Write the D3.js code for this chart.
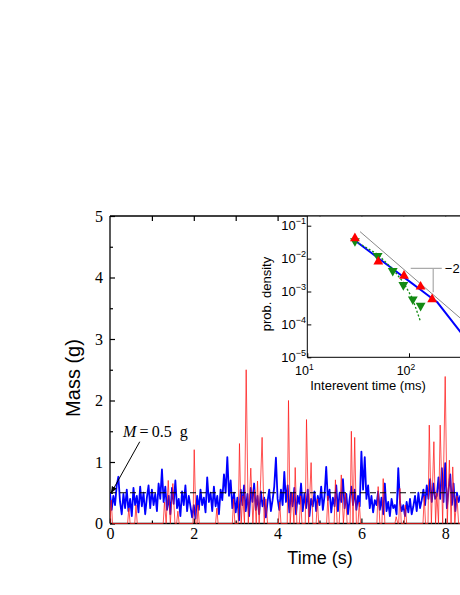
<!DOCTYPE html>
<html>
<head>
<meta charset="utf-8">
<style>
    body { margin: 0; background: #fff; }
    .serif { font-family: 'Liberation Serif', 'Times New Roman', serif; }
    .sans { font-family: 'Liberation Sans', Arial, sans-serif; }
    .spine { stroke: #000; stroke-width: 1.3px; }
</style>
</head>
<body>
<svg id="chart" width="460" height="595"></svg>
<script src="https://cdn.jsdelivr.net/npm/d3@7/dist/d3.min.js"></script>
<script>
    // ---- main trace data (time in s, mass in g) ----
    var blueDt = 0.04;
    var blueMass = [
        0.50, 0.22, 0.45, 0.30, 0.62, 0.76, 0.35, 0.15, 0.48, 0.25, 0.55, 0.20, 0.40, 0.12, 0.58, 0.30, 0.45, 0.18, 0.60, 0.28, 0.50, 0.15, 0.42, 0.62, 0.25,
        0.55, 0.30, 0.48, 0.20, 0.65, 0.40, 0.88, 0.35, 0.60, 0.22, 0.45, 0.15, 0.58, 0.32, 0.70, 0.25, 0.40, 0.12, 0.52, 0.30, 0.62, 0.20, 0.45, 0.28, 0.10,
        0.30, 0.08, 0.45, 0.22, 0.55, 0.30, 0.42, 0.18, 0.75, 0.35, 0.50, 0.20, 0.60, 0.28, 0.45, 0.15, 0.55, 0.38, 0.80, 0.50, 1.08, 0.45, 0.70, 0.25, 0.50,
        0.18, 0.42, 0.05, 0.55, 0.30, 0.62, 0.20, 0.48, 0.12, 0.58, 0.35, 0.65, 0.22, 0.45, 0.15, 0.52, 0.28, 0.42, 0.10, 0.35, 0.55, 0.20, 0.38, 0.60, 1.07,
        0.40, 0.22, 0.55, 0.30, 0.84, 0.35, 0.62, 0.18, 0.50, 0.28, 0.58, 0.15, 0.45, 0.32, 0.65, 0.20, 0.48, 0.25, 0.55, 0.12, 0.40, 0.28, 0.52, 0.20, 0.45,
        0.30, 0.60, 0.22, 0.45, 0.92, 0.38, 0.55, 0.18, 0.42, 0.28, 0.62, 0.20, 0.50, 0.35, 0.72, 0.25, 0.48, 0.15, 0.40, 0.60, 0.30, 0.55, 0.22, 0.45, 0.28,
        1.17, 0.55, 1.08, 0.40, 0.62, 0.25, 0.45, 0.18, 0.38, 0.30, 0.52, 0.22, 0.42, 0.15, 0.65, 0.20, 0.35, 0.12, 0.40, 0.25, 0.30, 0.15, 0.90, 0.35, 0.20,
        0.30, 0.12, 0.35, 0.18, 0.40, 0.15, 0.28, 0.45, 0.20, 0.50, 0.25, 0.38, 0.55, 0.30, 0.62, 0.40, 0.72, 0.35, 0.65, 0.40, 0.45, 0.75, 0.40, 0.90, 0.35,
        0.98, 0.25, 0.55, 0.80, 0.30, 0.65, 0.20, 0.50, 0.35, 0.45, 0.25, 0.55
    ];
    var redTime = [
        0, 0.03, 0.06, 0.42, 0.45, 0.48, 0.59, 0.62, 0.65, 1.27, 1.30, 1.34, 1.39, 1.44, 1.50, 1.55, 1.59, 1.62, 1.65,
        1.98, 2.01, 2.05, 2.08, 2.10, 2.13, 2.52, 2.55, 2.58, 2.92, 2.95, 2.98, 3.06, 3.09, 3.13, 3.17, 3.21, 3.25, 3.30,
        3.36, 3.41, 3.45, 3.49, 3.52, 3.56, 3.63, 3.68, 3.72, 3.76, 4.02, 4.05, 4.08, 4.23, 4.26, 4.30, 4.35, 4.39, 4.42,
        4.46, 4.52, 4.55, 4.58, 4.66, 4.69, 4.74, 4.80, 4.84, 4.92, 4.95, 4.98, 5.17, 5.20, 5.23, 5.35, 5.38, 5.42, 5.47,
        5.52, 5.57, 5.62, 5.66, 5.73, 5.76, 5.80, 5.84, 5.88, 5.92, 5.95, 5.98, 6.37, 6.40, 6.44, 6.49, 6.52, 6.56, 6.80,
        6.83, 6.87, 6.89, 6.92, 6.95, 7.02, 7.05, 7.08, 7.47, 7.50, 7.53, 7.59, 7.62, 7.67, 7.73, 7.77, 7.80, 7.84, 7.88,
        7.94, 8.00, 8.05, 8.10, 8.14, 8.18, 8.23, 8.28, 8.32, 8.50
    ];
    var redMass = [
        0, 0.38, 0, 0, 0.25, 0, 0, 0.30, 0, 0, 0.35, 0, 0.70, 0, 0.65, 0, 0, 0.20, 0,
        0, 1.20, 0, 0, 0.30, 0, 0, 0.25, 0, 0, 0.40, 0, 0, 1.30, 0, 0.45, 0, 2.50, 0,
        0.90, 0, 0.55, 0, 0.69, 0, 1.40, 0, 0.40, 0, 0, 0.35, 0, 0, 2.00, 0, 0.50, 0, 0.91,
        0, 0, 0.45, 0, 0, 1.69, 0, 0.99, 0, 0, 0.40, 0, 0, 0.45, 0, 0, 0.71, 0, 0,
        0.79, 0, 0.50, 0, 0, 1.50, 0, 1.40, 0, 0, 0.35, 0, 0, 0.60, 0, 0, 0.73, 0, 0,
        0.11, 0, 0, 0.57, 0, 0, 0.30, 0, 0, 0.45, 0, 0, 1.60, 0, 1.33, 0, 0.50, 0, 1.60,
        0, 2.39, 0, 1.03, 0, 0.92, 0, 0.45, 0, 0
    ];
    var thresholdMass = 0.5;
    var xTicks = [0, 2, 4, 6, 8];
    var yTicks = [0, 1, 2, 3, 4, 5];

    // ---- inset data (interevent time in ms, prob. density) ----
    var redPdfT = [29.4, 49.9, 89.3, 130, 169];
    var redPdfP = [0.0414, 0.0081, 0.0030, 0.0014, 0.00058];
    var greenPdfT = [29.4, 49.2, 69.2, 88, 109, 130];
    var greenPdfP = [0.0343, 0.0122, 0.00428, 0.00158, 0.00058, 0.00037];
    var greenFitT = [29.4, 49.2, 69.2, 88, 108, 130];
    var greenFitP = [0.0343, 0.0135, 0.0048, 0.0019, 0.00062, 0.00012];
    var blueFitT = [29.4, 40, 50, 70, 90, 130, 170, 190, 230, 320, 500];
    var blueFitP = [0.0355, 0.0174, 0.0103, 0.00474, 0.00264, 0.00113, 0.00060, 0.00047, 0.00022, 0.000059, 0.00001];
    var refLineT = [33, 500];
    var refLineP = [0.066, 0.000047];
    var insetYTicks = [1e-5, 1e-4, 1e-3, 1e-2, 1e-1];
    var insetXTicks = [10, 100];

    var svg = d3.select('#chart');

    // main scales
    var x = d3.scaleLinear().domain([0, 10]).range([110, 529]);
    var y = d3.scaleLinear().domain([0, 5]).range([523.5, 216]);

    svg.append('clipPath').attr('id', 'plotclip')
        .append('rect').attr('x', 110).attr('y', 216).attr('width', 420).attr('height', 310);

    // spines
    svg.append('line').attr('class', 'spine').attr('x1', 110).attr('x2', 460).attr('y1', 216).attr('y2', 216);
    svg.append('line').attr('class', 'spine').attr('x1', 110).attr('x2', 110).attr('y1', 216).attr('y2', 523.5);
    svg.append('line').attr('class', 'spine').attr('x1', 110).attr('x2', 460).attr('y1', 523.5).attr('y2', 523.5);

    function styleAxis(g) {
        g.select('.domain').remove();
        g.attr('font-family', null).attr('font-size', null);
        g.selectAll('.tick line').attr('stroke', '#000').attr('stroke-width', 1.2);
        g.selectAll('text')
            .style('font-family', "'Liberation Serif', 'Times New Roman', serif")
            .style('font-size', '16px').attr('fill', '#000');
    }

    svg.append('g').attr('transform', 'translate(0,523.5)')
        .call(d3.axisBottom(x).tickValues(xTicks).tickFormat(d3.format('d'))
            .tickSizeInner(-5).tickSizeOuter(0).tickPadding(4))
        .call(styleAxis);
    svg.append('g').attr('transform', 'translate(0,523.5)')
        .call(d3.axisBottom(x).tickValues([1, 3, 5, 7, 9]).tickSizeInner(-3).tickSizeOuter(0).tickFormat(''))
        .call(styleAxis);
    svg.append('g').attr('transform', 'translate(0,216)')
        .call(d3.axisTop(x).tickValues(d3.range(1, 10)).tickSizeInner(-5).tickSizeOuter(0).tickFormat(''))
        .call(styleAxis);
    svg.append('g').attr('transform', 'translate(110,0)')
        .call(d3.axisLeft(y).tickValues(yTicks).tickFormat(d3.format('d'))
            .tickSizeInner(-5).tickSizeOuter(0).tickPadding(7))
        .call(styleAxis);
    svg.append('g').attr('transform', 'translate(110,0)')
        .call(d3.axisLeft(y).tickValues([0.5, 1.5, 2.5, 3.5, 4.5]).tickSizeInner(-3).tickSizeOuter(0).tickFormat(''))
        .call(styleAxis);

    // axis titles
    svg.append('text').attr('class', 'sans')
        .attr('transform', 'translate(80,378) rotate(-90)')
        .style('text-anchor', 'middle').style('font-size', '20px')
        .text('Mass (g)');
    svg.append('text').attr('class', 'sans')
        .attr('x', 320).attr('y', 564)
        .style('text-anchor', 'middle').style('font-size', '18px')
        .text('Time (s)');

    // traces
    var data = svg.append('g').attr('clip-path', 'url(#plotclip)');
    var line = d3.line().x(function(d) { return x(d[0]); }).y(function(d) { return y(d[1]); });

    var blueData = blueMass.map(function(v, i) { return [i * blueDt, v]; });
    var redData = redTime.map(function(t, i) { return [t, redMass[i]]; });

    data.append('path').datum(blueData)
        .attr('d', line).attr('fill', 'none')
        .attr('stroke', '#0000ff').attr('stroke-width', 1.8).attr('stroke-linejoin', 'round');
    data.append('path').datum(redData)
        .attr('d', line).attr('fill', 'none')
        .attr('stroke', '#ff1a1a').attr('stroke-width', 1).attr('stroke-opacity', 0.75);
    data.append('line')
        .attr('x1', 110).attr('x2', 460)
        .attr('y1', y(thresholdMass)).attr('y2', y(thresholdMass))
        .attr('stroke', '#000').attr('stroke-width', 1).attr('stroke-dasharray', '6,4');

    // annotation M = 0.5 g
    var annText = [0.31, 1.40];
    var annTail = [0.71, 1.33];
    var annTip = [0.03, thresholdMass];
    svg.append('defs').append('marker').attr('id', 'arrow')
        .attr('viewBox', '0 0 10 10').attr('refX', 9).attr('refY', 5)
        .attr('markerWidth', 7).attr('markerHeight', 7).attr('orient', 'auto')
        .append('path').attr('d', 'M0,1 L10,5 L0,9 Z').attr('fill', '#000');
    svg.append('line')
        .attr('x1', x(annTail[0])).attr('y1', y(annTail[1]))
        .attr('x2', x(annTip[0])).attr('y2', y(annTip[1]))
        .attr('stroke', '#000').attr('stroke-width', 1).attr('marker-end', 'url(#arrow)');
    var ann = svg.append('text').attr('class', 'serif')
        .attr('x', x(annText[0])).attr('y', y(annText[1]))
        .style('font-size', '16px');
    ann.append('tspan').style('font-style', 'italic').text('M');
    ann.append('tspan').text('\u2009=\u20090.5\u2002g');

    // ---- inset ----
    var xi = d3.scaleLog().domain([10, 1000]).range([307.3, 510.7]);
    var yi = d3.scaleLog().domain([1e-5, 1e-1]).range([357.3, 225.7]);

    svg.append('rect').attr('x', 307.3).attr('y', 216.7).attr('width', 160).attr('height', 140.6).attr('fill', '#fff');
    svg.append('line').attr('stroke', '#000').attr('stroke-width', 1)
        .attr('x1', 307.3).attr('x2', 307.3).attr('y1', 216).attr('y2', 357.3);
    svg.append('line').attr('stroke', '#000').attr('stroke-width', 1)
        .attr('x1', 307.3).attr('x2', 460).attr('y1', 357.3).attr('y2', 357.3);

    var ayi = svg.append('g').attr('transform', 'translate(307.3,0)')
        .call(d3.axisLeft(yi).tickValues(insetYTicks).tickSizeInner(-4).tickSizeOuter(0).tickFormat(''));
    ayi.select('.domain').remove();
    ayi.selectAll('.tick line').attr('stroke', '#000');
    var axi = svg.append('g').attr('transform', 'translate(0,357.3)')
        .call(d3.axisBottom(xi).tickValues(insetXTicks).tickSizeInner(-4).tickSizeOuter(0).tickFormat(''));
    axi.select('.domain').remove();
    axi.selectAll('.tick line').attr('stroke', '#000');

    insetYTicks.forEach(function(v) {
        var t = svg.append('text').attr('class', 'sans')
            .attr('x', 306).attr('y', yi(v) + 4.5)
            .style('text-anchor', 'end').style('font-size', '13px');
        t.append('tspan').text('10');
        t.append('tspan').attr('dy', -6).style('font-size', '9px').text('\u2212' + Math.round(-Math.log10(v)));
    });
    insetXTicks.forEach(function(v) {
        var t = svg.append('text').attr('class', 'sans')
            .attr('x', xi(v) - 3).attr('y', 375)
            .style('text-anchor', 'middle').style('font-size', '12.5px');
        t.append('tspan').text('10');
        t.append('tspan').attr('dy', -5).style('font-size', '8.5px').text(Math.round(Math.log10(v)));
    });
    svg.append('text').attr('class', 'sans')
        .attr('x', 368).attr('y', 390)
        .style('text-anchor', 'middle').style('font-size', '13px')
        .text('Interevent time (ms)');
    svg.append('text').attr('class', 'sans')
        .attr('transform', 'translate(271,294) rotate(-90)')
        .style('text-anchor', 'middle').style('font-size', '13px')
        .text('prob. density');

    svg.append('clipPath').attr('id', 'insetclip')
        .append('rect').attr('x', 307.3).attr('y', 216).attr('width', 200).attr('height', 141.3);
    var ins = svg.append('g').attr('clip-path', 'url(#insetclip)');
    var lineLog = d3.line().x(function(d) { return xi(d[0]); }).y(function(d) { return yi(d[1]); });
    function zip(a, b) { return a.map(function(v, i) { return [v, b[i]]; }); }

    ins.append('path').datum(zip(refLineT, refLineP))
        .attr('d', lineLog).attr('fill', 'none').attr('stroke', '#888').attr('stroke-width', 1);
    // slope bracket
    var brX = [104, 173, 210];
    var brY = [0.00507, 0.00095];
    ins.append('line').attr('stroke', '#aaa').attr('stroke-width', 1.2)
        .attr('x1', xi(brX[0])).attr('x2', xi(brX[2])).attr('y1', yi(brY[0])).attr('y2', yi(brY[0]));
    ins.append('line').attr('stroke', '#aaa').attr('stroke-width', 1.2)
        .attr('x1', xi(brX[1])).attr('x2', xi(brX[1])).attr('y1', yi(brY[0])).attr('y2', yi(brY[1]));
    svg.append('text').attr('class', 'sans')
        .attr('x', xi(225)).attr('y', yi(brY[0]) + 5)
        .style('font-size', '13px').text('\u22122');

    ins.append('path').datum(zip(blueFitT, blueFitP))
        .attr('d', lineLog).attr('fill', 'none').attr('stroke', '#0000ff').attr('stroke-width', 2);
    ins.append('path').datum(zip(greenFitT, greenFitP))
        .attr('d', lineLog).attr('fill', 'none').attr('stroke', '#138a13')
        .attr('stroke-width', 1.3).attr('stroke-dasharray', '2,2');

    var tri = d3.symbol().type(d3.symbolTriangle).size(42);
    ins.selectAll('.gtri').data(zip(greenPdfT, greenPdfP)).enter().append('path')
        .attr('d', tri).attr('fill', '#138a13')
        .attr('transform', function(d) { return 'translate(' + xi(d[0]) + ',' + yi(d[1]) + ') rotate(180)'; });
    ins.selectAll('.rtri').data(zip(redPdfT, redPdfP)).enter().append('path')
        .attr('d', tri).attr('fill', '#ff0000')
        .attr('transform', function(d) { return 'translate(' + xi(d[0]) + ',' + yi(d[1]) + ')'; });
</script>
</body>
</html>
